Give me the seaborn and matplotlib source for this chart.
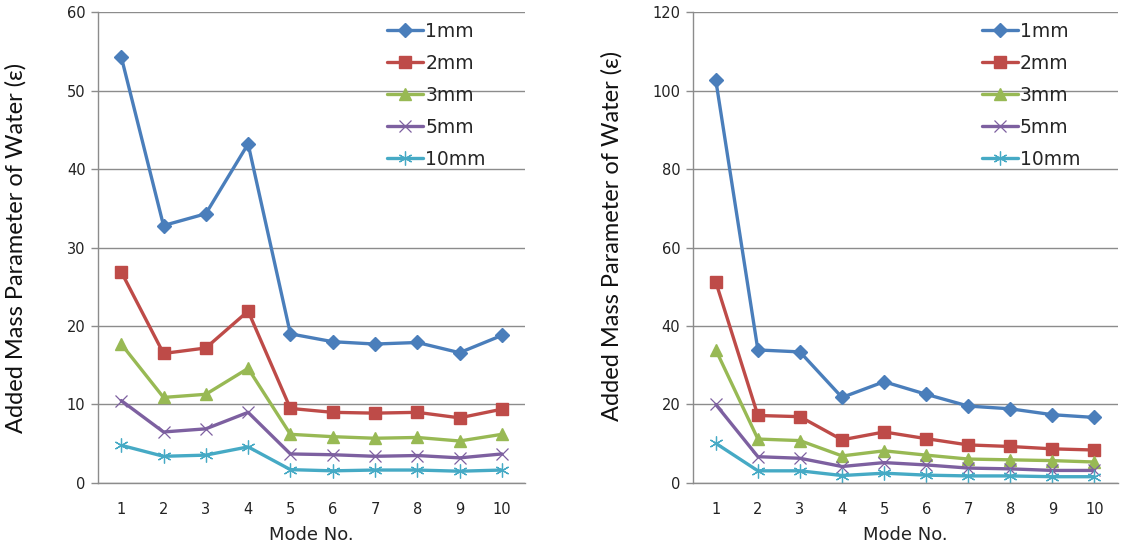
import matplotlib
matplotlib.use("Agg")
import matplotlib.pyplot as plt
import seaborn as sns
import pandas as pd

# Mode numbers shared by both panels
modes = [1, 2, 3, 4, 5, 6, 7, 8, 9, 10]
series = ["1mm", "2mm", "3mm", "5mm", "10mm"]

# Left panel values
left_1mm = [54.3, 32.8, 34.3, 43.2, 19.0, 18.0, 17.7, 17.9, 16.6, 18.8]
left_2mm = [26.9, 16.5, 17.2, 21.9, 9.5, 9.0, 8.9, 9.0, 8.3, 9.4]
left_3mm = [17.7, 10.9, 11.3, 14.6, 6.2, 5.9, 5.7, 5.8, 5.35, 6.2]
left_5mm = [10.5, 6.5, 6.9, 9.0, 3.7, 3.6, 3.4, 3.5, 3.2, 3.7]
left_10mm = [4.8, 3.4, 3.55, 4.6, 1.7, 1.55, 1.65, 1.65, 1.5, 1.65]

# Right panel values
right_1mm = [102.6, 33.9, 33.4, 21.8, 25.8, 22.6, 19.6, 18.9, 17.4, 16.7]
right_2mm = [51.2, 17.2, 16.9, 11.0, 13.0, 11.3, 9.7, 9.3, 8.7, 8.4]
right_3mm = [33.9, 11.2, 10.8, 6.9, 8.2, 7.1, 6.1, 5.9, 5.7, 5.35]
right_5mm = [20.0, 6.7, 6.3, 4.2, 5.2, 4.6, 3.8, 3.6, 3.2, 3.2]
right_10mm = [10.1, 3.1, 3.1, 1.9, 2.5, 2.0, 1.8, 1.8, 1.6, 1.6]

colors = ["#4A7EBB", "#BE4B48", "#98B954", "#7D60A0", "#46AAC5"]
# marker shapes per series (x and asterisk are line-art, applied after plotting)
marker_shapes = {"1mm": "D", "2mm": "s", "3mm": "^", "5mm": "x", "10mm": (6, 2, 0)}
msizes = {"1mm": 7, "2mm": 8, "3mm": 8, "5mm": 9, "10mm": 10}


def long_frame(columns):
    rows = []
    for name, vals in zip(series, columns):
        for m, v in zip(modes, vals):
            rows.append({"mode": m, "value": v, "series": name})
    return pd.DataFrame(rows)


sns.set_theme(style="white")
plt.rcParams["font.family"] = ["DejaVu Sans"]

fig = plt.figure(figsize=(11.3, 5.46), dpi=100)
ax_l = fig.add_axes([0.0867, 0.1154, 0.378, 0.8626])
ax_r = fig.add_axes([0.613, 0.1154, 0.376, 0.8626])

panels = [
    (ax_l, long_frame([left_1mm, left_2mm, left_3mm, left_5mm, left_10mm]), 60, 10, 0.677, 0.50),
    (ax_r, long_frame([right_1mm, right_2mm, right_3mm, right_5mm, right_10mm]), 120, 20, 0.680, 0.525),
]

for ax, df, ymax, step, leg_x, label_y in panels:
    sns.lineplot(data=df, x="mode", y="value", hue="series",
                 hue_order=series, palette=colors,
                 marker="o", linewidth=2.4, legend=False, ax=ax)
    lines = ax.lines[:len(series)]
    for line, name in zip(lines, series):
        c = line.get_color()
        line.set_marker(marker_shapes[name])
        line.set_markeredgecolor(c)
        line.set_markerfacecolor(c)
        line.set_markersize(msizes[name])
        line.set_markeredgewidth(1.0 if name in ("1mm", "2mm", "3mm") else 0.9)
        line.set_label(name)

    ax.set_xlim(0.45, 10.55)
    ax.set_ylim(0, ymax)
    ax.set_yticks(range(0, ymax + 1, step))
    ax.set_xticks(modes)
    ax.yaxis.grid(True, color="#8c8c8c", linewidth=1.0)
    ax.set_axisbelow(True)
    for s in ("top", "right"):
        ax.spines[s].set_visible(False)
    for s in ("left", "bottom"):
        ax.spines[s].set_color("#8c8c8c")
        ax.spines[s].set_linewidth(1.0)
    ax.tick_params(axis="y", which="major", left=True, length=5, width=1.0,
                   color="#8c8c8c", labelsize=10.5, pad=4, labelcolor="#222222")
    ax.tick_params(axis="x", bottom=False, labelsize=10.5, pad=8, labelcolor="#222222")
    ax.set_xlabel("Mode No.", fontsize=13, labelpad=6, color="#222222")
    ax.set_ylabel("Added Mass Parameter of Water (ε)", fontsize=17,
                  family=["Lato", "DejaVu Sans"], color="#111111")
    ax.yaxis.set_label_coords(-0.166, label_y)

    ax.legend(handles=lines, labels=series, loc="upper left",
              bbox_to_anchor=(leg_x, 0.979), frameon=False, fontsize=13.5,
              handlelength=1.92, handletextpad=0.12, labelspacing=0.69,
              borderpad=0, borderaxespad=0)

fig.savefig("out.png", dpi=100, facecolor="white")
